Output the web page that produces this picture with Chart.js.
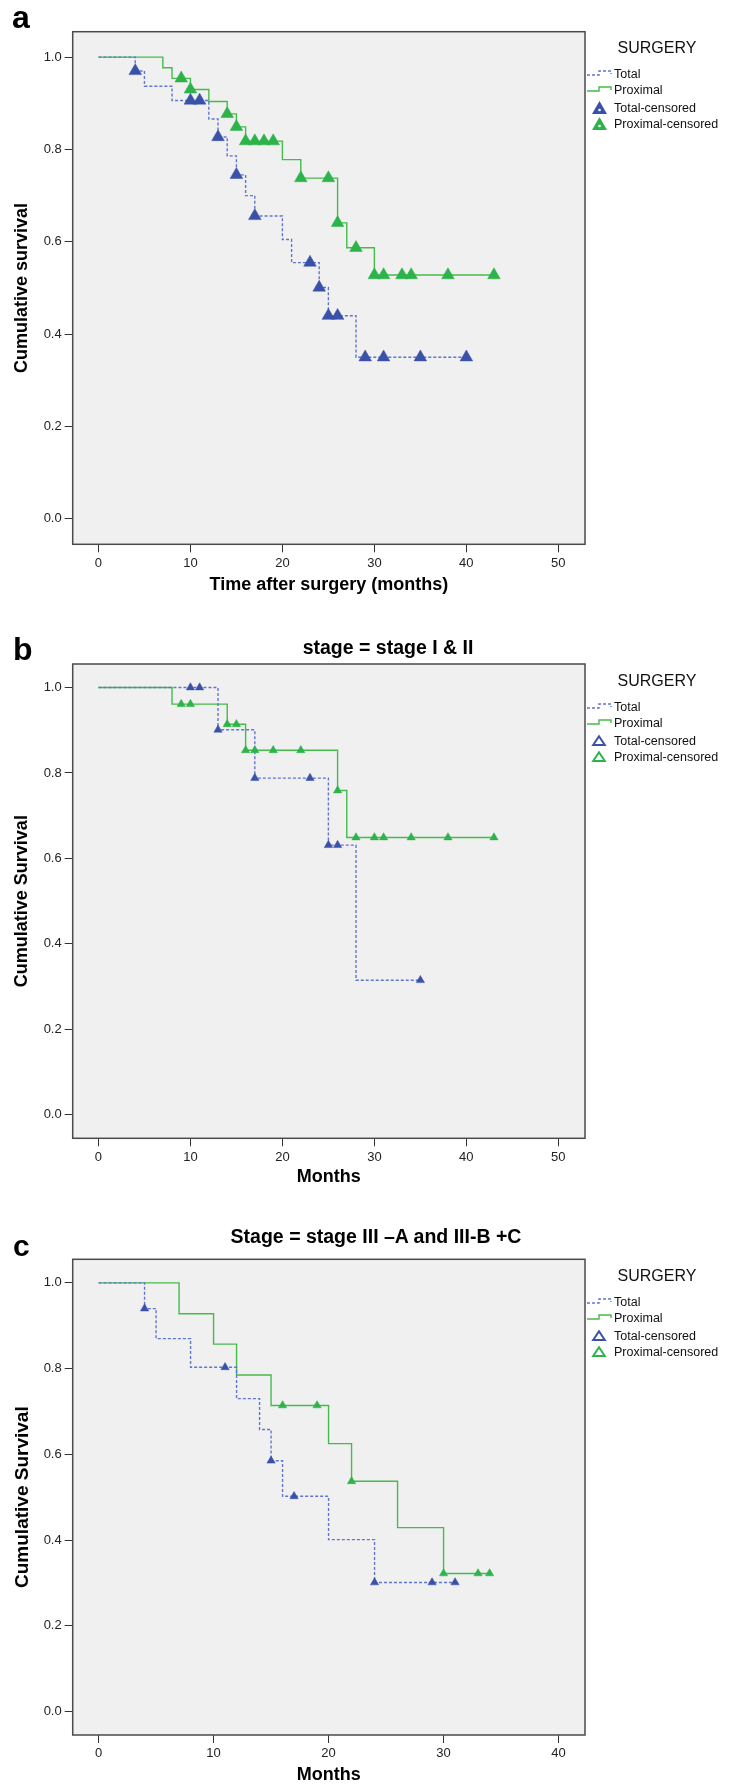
<!DOCTYPE html>
<html>
<head>
<meta charset="utf-8">
<script src="https://cdn.jsdelivr.net/npm/chart.js@4.4.1/dist/chart.umd.min.js"></script>
<style>
html,body{margin:0;padding:0;background:#fff;}
body{width:741px;height:1786px;position:relative;overflow:hidden;font-family:"Liberation Sans",Arial,sans-serif;}
canvas{position:absolute;left:0;}
.t{position:absolute;white-space:nowrap;line-height:1;color:#000;}
.b{font-weight:bold;}
.lg{position:absolute;white-space:nowrap;color:#111;font-size:12.5px;line-height:16px;height:16px;}
.lgh{position:absolute;white-space:nowrap;color:#111;font-size:16px;line-height:20px;height:20px;transform:translateX(-50%);}
svg{position:absolute;overflow:visible;}
</style>
</head>
<body>
<canvas id="ca" width="741" height="600" style="top:0px"></canvas>
<canvas id="cb" width="741" height="600" style="top:600px"></canvas>
<canvas id="cc" width="741" height="586" style="top:1200px"></canvas>

<div class="t b" style="left:12px;top:1px;font-size:32px;">a</div>
<div class="t b" style="left:13px;top:633px;font-size:32px;">b</div>
<div class="t b" style="left:13px;top:1231px;font-size:30px;">c</div>
<div class="t b" style="left:388px;top:638px;font-size:19.5px;transform:translateX(-50%);">stage = stage I &amp; II</div>
<div class="t b" style="left:376px;top:1226.5px;font-size:19.5px;transform:translateX(-50%);">Stage = stage III –A and III-B +C</div>

<div id="legends"></div>

<script>
// ---------------- data ----------------
// Panel a (all patients)
const aTotalTimes = [0, 4, 5, 8, 12, 13, 14, 15, 16, 17, 20, 21, 24, 25, 28, 40];
const aTotalSurv  = [1, 0.970, 0.937, 0.906, 0.866, 0.827, 0.786, 0.745, 0.700, 0.656, 0.605, 0.555, 0.501, 0.440, 0.350, 0.350];
const aTotalCensT = [4, 10, 11, 13, 15, 17, 23, 24, 25, 26, 29, 31, 35, 40];
const aTotalCensS = [0.970, 0.906, 0.906, 0.827, 0.745, 0.656, 0.555, 0.501, 0.440, 0.440, 0.350, 0.350, 0.350, 0.350];
const aProxTimes  = [0, 7, 8, 10, 12, 14, 15, 16, 20, 22, 26, 27, 30, 43];
const aProxSurv   = [1, 0.977, 0.954, 0.930, 0.904, 0.877, 0.849, 0.818, 0.778, 0.738, 0.641, 0.587, 0.528, 0.528];
const aProxCensT  = [9, 10, 14, 15, 16, 17, 18, 19, 22, 25, 26, 28, 30, 31, 33, 34, 38, 43];
const aProxCensS  = [0.954, 0.930, 0.877, 0.849, 0.818, 0.818, 0.818, 0.818, 0.738, 0.738, 0.641, 0.587, 0.528, 0.528, 0.528, 0.528, 0.528, 0.528];

// Panel b (stage I & II)
const bTotalTimes = [0, 13, 17, 25, 28, 35];
const bTotalSurv  = [1, 0.901, 0.788, 0.631, 0.315, 0.315];
const bTotalCensT = [10, 11, 13, 17, 23, 25, 26, 35];
const bTotalCensS = [1, 1, 0.901, 0.788, 0.788, 0.631, 0.631, 0.315];
const bProxTimes  = [0, 8, 14, 16, 26, 27, 43];
const bProxSurv   = [1, 0.961, 0.914, 0.853, 0.759, 0.649, 0.649];
const bProxCensT  = [9, 10, 14, 15, 16, 17, 19, 22, 26, 28, 30, 31, 34, 38, 43];
const bProxCensS  = [0.961, 0.961, 0.914, 0.914, 0.853, 0.853, 0.853, 0.853, 0.759, 0.649, 0.649, 0.649, 0.649, 0.649, 0.649];

// Panel c (stage III)
const cTotalTimes = [0, 4, 5, 8, 12, 14, 15, 16, 20, 24, 31];
const cTotalSurv  = [1, 0.940, 0.870, 0.803, 0.730, 0.658, 0.585, 0.502, 0.401, 0.301, 0.301];
const cTotalCensT = [4, 11, 15, 17, 24, 29, 31];
const cTotalCensS = [0.940, 0.803, 0.585, 0.502, 0.301, 0.301, 0.301];
const cProxTimes  = [0, 7, 10, 12, 15, 20, 22, 26, 30, 34];
const cProxSurv   = [1, 0.928, 0.857, 0.785, 0.714, 0.625, 0.537, 0.429, 0.322, 0.322];
const cProxCensT  = [16, 19, 22, 30, 33, 34];
const cProxCensS  = [0.714, 0.714, 0.537, 0.322, 0.322, 0.322];

// tick labels
const xTicksAB = [0, 10, 20, 30, 40, 50];
const xTicksC  = [0, 10, 20, 30, 40];
const yTicks   = [0, 0.2, 0.4, 0.6, 0.8, 1.0];

const legendTitle = "SURGERY";
const legendLabels = ["Total", "Proximal", "Total-censored", "Proximal-censored"];

// ---------------- styling ----------------
const FONT = '"Liberation Sans", Arial, sans-serif';
const BLUE_LINE = '#5f75cf';
const BLUE_MARK = '#3a51a8';
const GREEN_LINE = '#45bb4a';
const GREEN_MARK = '#2cb34a';

Chart.defaults.font.family = FONT;

const pts = (xs, ys) => xs.map((x, i) => ({x: x, y: ys[i]}));

const boxPlugin = {
  id: 'spssBox',
  beforeDraw(chart) {
    const {ctx, chartArea: a} = chart;
    ctx.save();
    ctx.fillStyle = '#f0f0f0';
    ctx.fillRect(a.left, a.top, a.right - a.left, a.bottom - a.top);
    ctx.restore();
  },
  afterDraw(chart) {
    const {ctx, chartArea: a} = chart;
    ctx.save();
    ctx.strokeStyle = '#4a4a4a';
    ctx.lineWidth = 1.5;
    ctx.strokeRect(a.left, a.top, a.right - a.left, a.bottom - a.top);
    ctx.restore();
  }
};

function makeChart(id, o) {
  const datasets = [
    {type: 'line', data: pts(o.tc, o.sc), showLine: false, pointStyle: 'triangle',
     pointRadius: o.r, pointHoverRadius: o.r, pointBackgroundColor: BLUE_MARK, pointBorderColor: BLUE_MARK,
     pointBorderWidth: 0.5, order: 0},
    {type: 'line', data: pts(o.pc, o.psc), showLine: false, pointStyle: 'triangle',
     pointRadius: o.r, pointHoverRadius: o.r, pointBackgroundColor: GREEN_MARK, pointBorderColor: GREEN_MARK,
     pointBorderWidth: 0.5, order: 0},
    {type: 'line', data: pts(o.tt, o.ts), stepped: true, borderColor: BLUE_LINE, borderWidth: 1.4,
     borderDash: [3, 2], pointRadius: 0, fill: false, order: 1},
    {type: 'line', data: pts(o.pt, o.ps), stepped: true, borderColor: GREEN_LINE, borderWidth: 1.4,
     pointRadius: 0, fill: false, order: 2}
  ];
  return new Chart(document.getElementById(id), {
    type: 'line',
    data: {datasets},
    options: {
      responsive: false, animation: false, devicePixelRatio: 1,
      events: [],
      layout: {padding: o.pad},
      plugins: {legend: {display: false}, tooltip: {enabled: false}, title: {display: false}},
      scales: {
        x: {
          type: 'linear', min: o.xMin, max: o.xMax,
          afterBuildTicks: s => { s.ticks = o.xTicks.map(v => ({value: v})); },
          afterFit: s => { s.height = o.xH; },
          grid: {drawOnChartArea: false, drawTicks: true, tickLength: 8, color: '#333', lineWidth: 1},
          border: {display: false},
          ticks: {padding: 3, autoSkip: false, maxRotation: 0, color: '#222',
                  font: {size: 13}, callback: v => String(v)},
          title: {display: true, text: o.xTitle, color: '#000', padding: {top: 0, bottom: 0},
                  font: {size: 18, weight: 'bold'}}
        },
        y: {
          type: 'linear', min: -0.055, max: 1.055,
          afterBuildTicks: s => { s.ticks = yTicks.map(v => ({value: v})); },
          afterFit: s => { s.width = 72.7; },
          grid: {drawOnChartArea: false, drawTicks: true, tickLength: 8, color: '#333', lineWidth: 1},
          border: {display: false},
          ticks: {padding: 3, color: '#222', font: {size: 13}, callback: v => Number(v).toFixed(1)},
          title: {display: true, text: o.yTitle, color: '#000', padding: {top: 11, bottom: 0},
                  font: {size: o.yTitleSize, weight: 'bold'}}
        }
      }
    },
    plugins: [boxPlugin]
  });
}

makeChart('ca', {
  tt: aTotalTimes, ts: aTotalSurv, tc: aTotalCensT, sc: aTotalCensS,
  pt: aProxTimes, ps: aProxSurv, pc: aProxCensT, psc: aProxCensS,
  r: 7.3, xMin: -2.8, xMax: 52.9, xTicks: xTicksAB,
  xTitle: 'Time after surgery (months)', yTitle: 'Cumulative survival', yTitleSize: 18,
  pad: {top: 31.7, left: 0, right: 156, bottom: 4.2}, xH: 51.5
});
makeChart('cb', {
  tt: bTotalTimes, ts: bTotalSurv, tc: bTotalCensT, sc: bTotalCensS,
  pt: bProxTimes, ps: bProxSurv, pc: bProxCensT, psc: bProxCensS,
  r: 4.8, xMin: -2.8, xMax: 52.9, xTicks: xTicksAB,
  xTitle: 'Months', yTitle: 'Cumulative Survival', yTitleSize: 18,
  pad: {top: 64, left: 0, right: 156, bottom: 12.2}, xH: 49.5
});
makeChart('cc', {
  tt: cTotalTimes, ts: cTotalSurv, tc: cTotalCensT, sc: cTotalCensS,
  pt: cProxTimes, ps: cProxSurv, pc: cProxCensT, psc: cProxCensS,
  r: 4.8, xMin: -2.25, xMax: 42.3, xTicks: xTicksC,
  xTitle: 'Months', yTitle: 'Cumulative Survival', yTitleSize: 19,
  pad: {top: 59.3, left: 0, right: 156, bottom: 0.2}, xH: 50.8
});

// ---------------- legends (HTML) ----------------
function legend(cy, filled) {
  const rows = [cy + 25.5, cy + 42, cy + 59.5, cy + 75.5];
  let h = '';
  h += `<div class="lgh" style="left:657px;top:${cy - 10}px;">${legendTitle}</div>`;
  h += `<svg width="26" height="10" style="left:587px;top:${rows[0] - 6}px;"><path d="M0,7 H12 V3 H24 V6" fill="none" stroke="${BLUE_LINE}" stroke-width="1.4" stroke-dasharray="3,2"/></svg>`;
  h += `<svg width="26" height="10" style="left:587px;top:${rows[1] - 6}px;"><path d="M0,7 H12 V3 H24 V6" fill="none" stroke="${GREEN_LINE}" stroke-width="1.4"/></svg>`;
  const tri = (col, y) => filled
    ? `<svg width="15" height="13" style="left:591.8px;top:${y - 6.5}px;"><polygon points="7.5,0 15,13 0,13" fill="${col}"/><circle cx="7.5" cy="9" r="1.3" fill="#fff"/></svg>`
    : `<svg width="14" height="11" style="left:592px;top:${y - 5.5}px;"><polygon points="7,1.2 12.8,10 1.2,10" fill="none" stroke="${col}" stroke-width="2"/></svg>`;
  h += tri(BLUE_MARK, rows[2]);
  h += tri(GREEN_MARK, rows[3]);
  legendLabels.forEach((t, i) => {
    h += `<div class="lg" style="left:614px;top:${rows[i] - 8}px;">${t}</div>`;
  });
  return h;
}
document.getElementById('legends').innerHTML =
  legend(48.3, true) + legend(681, false) + legend(1276, false);
</script>
</body>
</html>
